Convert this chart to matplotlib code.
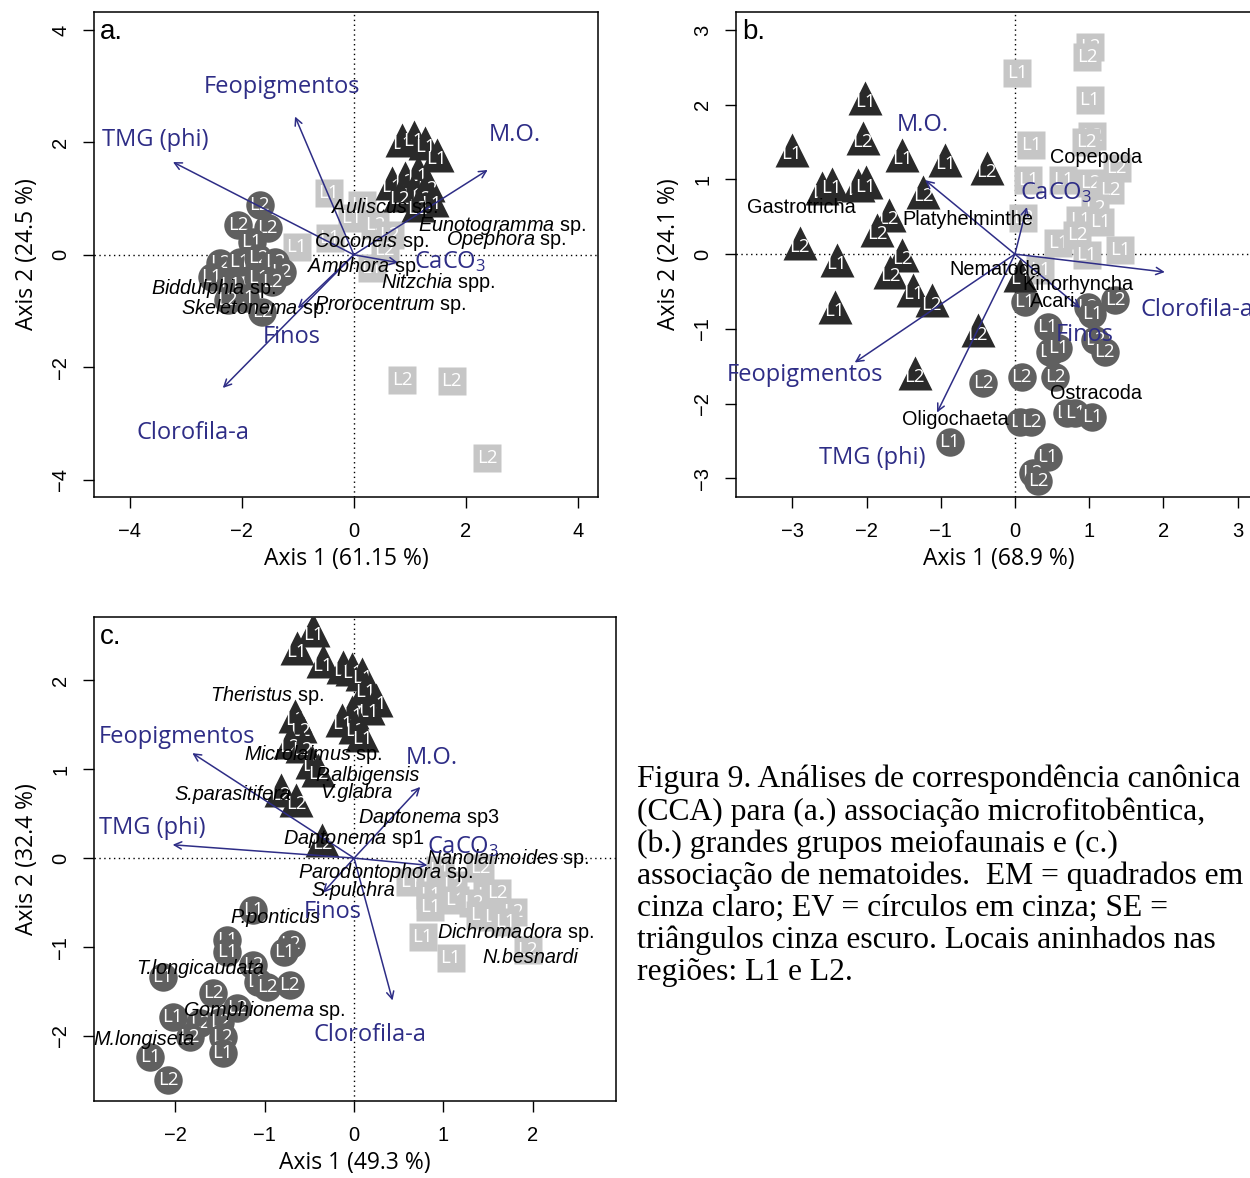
import numpy as np
import matplotlib.pyplot as plt

plt.rcParams['mathtext.fontset'] = 'custom'
plt.rcParams['mathtext.rm'] = 'Open Sans'
plt.rcParams['mathtext.it'] = 'Liberation Sans:italic'

BLUE = '#2e2d86'
C_SQ = '#c6c6c6'
C_CI = '#606060'
C_TR = '#2a2a2a'

# ---------------- panel a ----------------
a_sq_x = [-0.45, 0.14, -0.04, 0.38, 0.64, -0.43, -1.02, 0.32, 0.55, 0.86, 1.75, 2.38]
a_sq_y = [1.10, 0.89, 0.66, 0.53, 0.36, 0.30, 0.14, -0.23, 0.09, -2.22, -2.24, -3.61]
a_sq_l = ['L1', 'L1', 'L1', 'L2', 'L2', 'L1', 'L1', 'L1', 'L2', 'L2', 'L2', 'L2']
a_ci_x = [-1.68, -1.54, -2.07, -1.82, -2.39, -2.04, -1.71, -1.41, -1.29, -2.54, -2.21, -1.71, -1.46, -1.95, -1.64, -2.25]
a_ci_y = [0.89, 0.48, 0.53, 0.23, -0.14, -0.12, -0.05, -0.12, -0.30, -0.39, -0.53, -0.41, -0.48, -0.77, -1.01, -0.80]
a_ci_l = ['L2', 'L2', 'L2', 'L1', 'L2', 'L1', 'L2', 'L2', 'L2', 'L1', 'L1', 'L1', 'L2', 'L1', 'L2', 'L2']
a_tr_x = [0.86, 1.07, 1.27, 1.48, 0.68, 0.91, 1.14, 1.32, 1.04, 1.21, 0.82, 1.39, 1.14]
a_tr_y = [2.05, 2.10, 1.99, 1.78, 1.28, 1.37, 1.48, 1.25, 1.12, 1.07, 1.07, 0.98, 0.89]
a_tr_l = ['L1', 'L1', 'L1', 'L1', 'L1', 'L2', 'L1', 'L2', 'L1', 'L2', 'L2', 'L1', 'L2']
a_env = ['TMG (phi)', 'Feopigmentos', 'M.O.', 'CaCO$_3$', 'Finos', 'Clorofila-a']
a_env_x = [-3.23, -1.05, 2.39, 0.79, -1.00, -2.34]
a_env_y = [1.65, 2.46, 1.51, -0.14, -0.95, -2.37]
a_env_lx = [-3.55, -1.29, 2.88, 1.71, -1.11, -2.88]
a_env_ly = [2.05, 2.99, 2.14, -0.12, -1.46, -3.17]
a_sp = [r'$\mathit{Auliscus}$ sp.', r'$\mathit{Eunotogramma}$ sp.', r'$\mathit{Coconeis}$ sp.',
        r'$\mathit{Opephora}$ sp.', r'$\mathit{Amphora}$ sp.', r'$\mathit{Nitzchia}$ spp.',
        r'$\mathit{Biddulphia}$ sp.', r'$\mathit{Skeletonema}$ sp.', r'$\mathit{Prorocentrum}$ sp.']
a_sp_x = [0.55, 2.64, 0.32, 2.73, 0.18, 1.50, -2.50, -1.77, 0.66]
a_sp_y = [0.84, 0.52, 0.23, 0.27, -0.21, -0.50, -0.60, -0.96, -0.89]

# ---------------- panel b ----------------
b_sq_x = [1.01, 0.97, 0.03, 1.01, 1.04, 0.96, 0.22, 0.18, 0.65, 1.01, 1.37, 1.28, 1.08, 0.88, 1.15, 0.11, 0.58, 0.84, 0.97, 1.42, 0.34]
b_sq_y = [2.77, 2.64, 2.42, 2.06, 1.58, 1.50, 1.46, 0.99, 0.99, 0.95, 1.15, 0.86, 0.62, 0.46, 0.43, 0.48, 0.15, 0.25, -0.01, 0.05, -0.21]
b_sq_l = ['L2', 'L2', 'L1', 'L1', 'L2', 'L2', 'L1', 'L1', 'L1', 'L2', 'L2', 'L2', 'L2', 'L1', 'L1', 'L2', 'L1', 'L2', 'L1', 'L1', 'L1']
b_ci_x = [0.13, 0.98, 1.04, 1.35, 0.44, 0.47, 0.58, 1.08, 1.21, -0.43, 0.09, 0.54, 0.70, 0.81, 1.04, 0.07, 0.22, -0.88, 0.44, 0.24, 0.31]
b_ci_y = [-0.64, -0.71, -0.80, -0.62, -0.98, -1.31, -1.26, -1.15, -1.31, -1.73, -1.65, -1.65, -2.13, -2.13, -2.18, -2.25, -2.25, -2.52, -2.72, -2.93, -3.04]
b_ci_l = ['L1', 'L2', 'L1', 'L2', 'L1', 'L2', 'L1', 'L2', 'L2', 'L2', 'L2', 'L2', 'L1', 'L1', 'L1', 'L1', 'L2', 'L1', 'L1', 'L2', 'L2']
b_tr_x = [-2.02, -3.01, -2.05, -1.52, -0.94, -0.38, -2.60, -2.47, -2.12, -2.01, -1.24, -1.70, -1.86, -2.90, -2.40, -1.52, -1.68, -1.37, -1.12, -2.43, -0.50, -1.35, 0.07]
b_tr_y = [2.09, 1.39, 1.55, 1.33, 1.26, 1.15, 0.88, 0.94, 0.92, 0.96, 0.83, 0.52, 0.32, 0.15, -0.08, -0.01, -0.24, -0.48, -0.62, -0.71, -1.02, -1.59, -0.28]
b_tr_l = ['L1', 'L1', 'L2', 'L1', 'L1', 'L2', 'L1', 'L1', 'L1', 'L1', 'L2', 'L2', 'L2', 'L2', 'L1', 'L2', 'L2', 'L1', 'L2', 'L1', 'L2', 'L2', 'L1']
b_env = ['M.O.', 'CaCO$_3$', 'Clorofila-a', 'Feopigmentos', 'TMG (phi)', 'Finos']
b_env_x = [-1.21, 0.16, 2.02, -2.16, -1.05, 0.88]
b_env_y = [0.99, 0.63, -0.24, -1.45, -2.12, -0.72]
b_env_lx = [-1.24, 0.56, 2.45, -2.83, -1.93, 0.94]
b_env_ly = [1.73, 0.82, -0.75, -1.62, -2.73, -1.08]
b_sp = ['Gastrotricha', 'Platyhelminthe', 'Copepoda', 'Nematoda', 'Kinorhyncha', 'Acari', 'Ostracoda', 'Oligochaeta']
b_sp_x = [-2.88, -0.63, 1.10, -0.27, 0.85, 0.51, 1.09, -0.81]
b_sp_y = [0.62, 0.46, 1.29, -0.20, -0.41, -0.64, -1.86, -2.21]

# ---------------- panel c ----------------
c_sq_x = [0.96, 1.41, 0.63, 1.11, 0.85, 1.49, 1.60, 1.13, 1.33, 0.85, 1.41, 1.57, 1.78, 1.69, 0.77, 1.08, 1.94]
c_sq_y = [-0.13, -0.11, -0.27, -0.30, -0.42, -0.42, -0.39, -0.47, -0.51, -0.55, -0.64, -0.66, -0.61, -0.72, -0.89, -1.12, -1.03]
c_sq_l = ['L1', 'L2', 'L1', 'L2', 'L1', 'L2', 'L2', 'L1', 'L2', 'L1', 'L2', 'L2', 'L2', 'L1', 'L1', 'L1', 'L2']
c_ci_x = [-1.13, -1.42, -1.42, -0.71, -0.78, -1.13, -1.08, -0.97, -0.72, -2.14, -1.58, -1.31, -2.03, -1.72, -1.50, -1.84, -1.47, -1.47, -2.28, -2.08]
c_ci_y = [-0.58, -0.92, -1.06, -0.96, -1.06, -1.20, -1.39, -1.45, -1.43, -1.34, -1.52, -1.69, -1.79, -1.85, -1.84, -2.01, -2.01, -2.19, -2.24, -2.49]
c_ci_l = ['L1', 'L1', 'L1', 'L2', 'L1', 'L2', 'L2', 'L2', 'L2', 'L1', 'L2', 'L2', 'L1', 'L2', 'L2', 'L2', 'L2', 'L1', 'L1', 'L2']
c_tr_x = [-0.46, -0.64, -0.35, -0.12, -0.02, 0.09, 0.13, 0.25, 0.16, -0.02, -0.13, 0.01, 0.09, -0.66, -0.60, -0.72, -0.58, -0.47, -0.40, -0.82, -0.65, -0.36]
c_tr_y = [2.56, 2.36, 2.21, 2.15, 2.13, 2.07, 1.91, 1.78, 1.69, 1.64, 1.55, 1.47, 1.38, 1.60, 1.48, 1.30, 1.26, 1.08, 0.99, 0.76, 0.65, 0.20]
c_tr_l = ['L1', 'L1', 'L1', 'L1', 'L1', 'L1', 'L1', 'L1', 'L1', 'L1', 'L1', 'L2', 'L1', 'L2', 'L2', 'L2', 'L2', 'L2', 'L2', 'L2', 'L2', 'L2']
c_env = ['Feopigmentos', 'TMG (phi)', 'M.O.', 'CaCO$_3$', 'Finos', 'Clorofila-a']
c_env_x = [-1.81, -2.03, 0.74, 0.82, -0.35, 0.43]
c_env_y = [1.18, 0.15, 0.80, -0.08, -0.39, -1.60]
c_env_lx = [-1.98, -2.26, 0.87, 1.22, -0.24, 0.18]
c_env_ly = [1.36, 0.34, 1.12, 0.13, -0.61, -1.99]
c_sp = [r'$\mathit{Theristus}$ sp.', r'$\mathit{Microlaimus}$ sp.', 'P.albigensis', 'S.parasitifera',
        'V.glabra', r'$\mathit{Daptonema}$ sp3', r'$\mathit{Daptonema}$ sp1', r'$\mathit{Nanolaimoides}$ sp.',
        r'$\mathit{Parodontophora}$ sp.', 'S.pulchra', 'P.ponticus', 'T.longicaudata',
        r'$\mathit{Gomphionema}$ sp.', 'M.longiseta', r'$\mathit{Dichromadora}$ sp.', 'N.besnardi']
c_sp_x = [-0.97, -0.46, 0.15, -1.36, 0.03, 0.84, -0.01, 1.72, 0.35, -0.01, -0.88, -1.72, -1.00, -2.35, 1.81, 1.97]
c_sp_y = [1.83, 1.16, 0.93, 0.71, 0.74, 0.45, 0.22, 0.00, -0.16, -0.36, -0.67, -1.24, -1.71, -2.04, -0.84, -1.12]

caption = ("Figura 9. Análises de correspondência canônica\n"
           "(CCA) para (a.) associação microfitobêntica,\n"
           "(b.) grandes grupos meiofaunais e (c.)\n"
           "associação de nematoides.  EM = quadrados em\n"
           "cinza claro; EV = círculos em cinza; SE =\n"
           "triângulos cinza escuro. Locais aninhados nas\n"
           "regiões: L1 e L2.")

W, H = 1250, 1178


def px_axes(fig, l, r, t, b):
    return fig.add_axes([l / W, 1 - b / H, (r - l) / W, (b - t) / H])


def points(ax, xs, ys, labs, marker, color, ms, z0):
    dy = -3 if marker == '^' else 0
    for i, (x, y, s) in enumerate(zip(xs, ys, labs)):
        z = z0 + i * 0.01
        ax.plot(x, y, marker=marker, ms=ms, color=color, mec='none', zorder=z)
        ax.annotate(s, (x, y), xytext=(0, dy), textcoords='offset points',
                    color='white', fontsize=13.5, family='Open Sans',
                    ha='center', va='center', zorder=z + 0.005)


def panel(ax, d, tag, xlim, ylim, xt, yt, xlab, ylab):
    ax.set_xlim(*xlim)
    ax.set_ylim(*ylim)
    ax.axhline(0, color='black', ls=(0, (1, 2.5)), lw=1, zorder=1)
    ax.axvline(0, color='black', ls=(0, (1, 2.5)), lw=1, zorder=1)
    points(ax, d['sq_x'], d['sq_y'], d['sq_l'], 's', C_SQ, 19.5, 2)
    points(ax, d['ci_x'], d['ci_y'], d['ci_l'], 'o', C_CI, 20.5, 3)
    points(ax, d['tr_x'], d['tr_y'], d['tr_l'], '^', C_TR, 25, 4)
    for ex, ey in zip(d['env_x'], d['env_y']):
        ax.annotate('', xy=(ex, ey), xytext=(0, 0), zorder=6,
                    arrowprops=dict(arrowstyle='->', color=BLUE, lw=1.1,
                                    shrinkA=0, shrinkB=0, mutation_scale=13))
    for s, x, y in zip(d['sp'], d['sp_x'], d['sp_y']):
        it = '$' not in s and d['italic']
        ax.text(x, y, s, fontsize=14.3, family='Liberation Sans',
                style='italic' if it else 'normal', ha='center', va='center', zorder=7)
    for s, x, y in zip(d['env'], d['env_lx'], d['env_ly']):
        ax.text(x, y, s, fontsize=17, family='Open Sans', color=BLUE,
                ha='center', va='center', zorder=8)
    ax.text(0.012, 0.985, tag, transform=ax.transAxes, fontsize=20,
            family='Liberation Sans', ha='left', va='top', zorder=9)
    ax.set_xticks(xt)
    ax.set_yticks(yt)
    ax.set_xticklabels([f'{v:g}'.replace('-', '\u2212') for v in xt],
                       family='Liberation Sans', fontsize=14.5)
    ax.set_yticklabels([f'{v:g}'.replace('-', '\u2212') for v in yt],
                       family='Liberation Sans', fontsize=14.5, rotation=90, va='center')
    ax.tick_params(length=8, width=1, direction='out')
    ax.tick_params(axis='x', pad=10)
    ax.tick_params(axis='y', pad=9)
    ax.set_xlabel(xlab, family='Open Sans', fontsize=16.5, labelpad=4)
    ax.set_ylabel(ylab, family='Open Sans', fontsize=16.5, labelpad=9)
    for sp in ax.spines.values():
        sp.set_linewidth(1.1)


def main():
    fig = plt.figure(figsize=(W / 100, H / 100), dpi=100)

    ax_a = px_axes(fig, 94, 598, 12, 497)
    da = dict(sq_x=a_sq_x, sq_y=a_sq_y, sq_l=a_sq_l, ci_x=a_ci_x, ci_y=a_ci_y, ci_l=a_ci_l,
              tr_x=a_tr_x, tr_y=a_tr_y, tr_l=a_tr_l, env=a_env, env_x=a_env_x, env_y=a_env_y,
              env_lx=a_env_lx, env_ly=a_env_ly, sp=a_sp, sp_x=a_sp_x, sp_y=a_sp_y, italic=True)
    panel(ax_a, da, 'a.', (-4.64, 4.36), (-4.31, 4.32), [-4, -2, 0, 2, 4], [-4, -2, 0, 2, 4],
          'Axis 1 (61.15 %)', 'Axis 2 (24.5 %)')

    ax_b = px_axes(fig, 736, 1262, 12, 497)
    db = dict(sq_x=b_sq_x, sq_y=b_sq_y, sq_l=b_sq_l, ci_x=b_ci_x, ci_y=b_ci_y, ci_l=b_ci_l,
              tr_x=b_tr_x, tr_y=b_tr_y, tr_l=b_tr_l, env=b_env, env_x=b_env_x, env_y=b_env_y,
              env_lx=b_env_lx, env_ly=b_env_ly, sp=b_sp, sp_x=b_sp_x, sp_y=b_sp_y, italic=False)
    panel(ax_b, db, 'b.', (-3.76, 3.33), (-3.25, 3.24), [-3, -2, -1, 0, 1, 2, 3],
          [-3, -2, -1, 0, 1, 2, 3], 'Axis 1 (68.9 %)', 'Axis 2 (24.1 %)')

    ax_c = px_axes(fig, 94, 616, 617, 1101)
    dc = dict(sq_x=c_sq_x, sq_y=c_sq_y, sq_l=c_sq_l, ci_x=c_ci_x, ci_y=c_ci_y, ci_l=c_ci_l,
              tr_x=c_tr_x, tr_y=c_tr_y, tr_l=c_tr_l, env=c_env, env_x=c_env_x, env_y=c_env_y,
              env_lx=c_env_lx, env_ly=c_env_ly, sp=c_sp, sp_x=c_sp_x, sp_y=c_sp_y, italic=True)
    panel(ax_c, dc, 'c.', (-2.91, 2.93), (-2.73, 2.71), [-2, -1, 0, 1, 2], [-2, -1, 0, 1, 2],
          'Axis 1 (49.3 %)', 'Axis 2 (32.4 %)')

    fig.text(637 / W, 1 - 765 / H, caption, family='Liberation Serif', fontsize=22.8,
             ha='left', va='top', linespacing=1.12)

    fig.savefig('out.png', dpi=100)


if __name__ == '__main__':
    main()
